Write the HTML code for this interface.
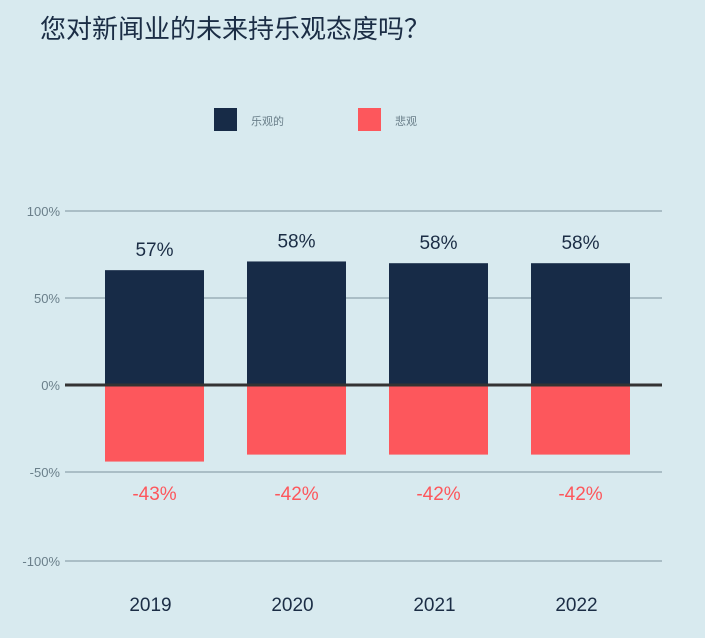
<!DOCTYPE html>
<html><head><meta charset="utf-8"><style>
body{margin:0;background:#d8eaef;width:705px;height:638px;overflow:hidden;font-family:"Liberation Sans","Noto Sans CJK SC",sans-serif}
</style></head><body>
<svg width="705" height="638" style="position:absolute;left:0;top:0">
<text x="40" y="38" font-size="26" fill="#1b2d45" font-family="Liberation Sans, Noto Sans CJK SC, sans-serif">您对新闻业的未来持乐观态度吗？</text>
<g>
<rect x="214" y="108" width="23" height="23" fill="#172b47"/>
<text x="251" y="125" font-size="11" fill="#6a7f8a" font-family="Liberation Sans, Noto Sans CJK SC, sans-serif">乐观的</text>
<rect x="358" y="108" width="23" height="23" fill="#fd575c"/>
<text x="395" y="125" font-size="11" fill="#6a7f8a" font-family="Liberation Sans, Noto Sans CJK SC, sans-serif">悲观</text>
</g>
<g id="plot"></g>
</svg>
<script>
const categories=["2019","2020","2021","2022"];
const positive=[66,71,70,70];
const negative=[-44,-40,-40,-40];
const positiveLabels=["57%","58%","58%","58%"];
const negativeLabels=["-43%","-42%","-42%","-42%"];
const ticks=[100,50,0,-50,-100];
const tickLabels=["100%","50%","0%","-50%","-100%"];
const NS="http://www.w3.org/2000/svg";
const g=document.getElementById('plot');
const y=v=>v>=-50?385-v*1.74:472+(-50-v)*1.78;
const xc=i=>154.5+i*142;
const bw=99;
function mk(t,a){const e=document.createElementNS(NS,t);for(const k in a)e.setAttribute(k,a[k]);g.appendChild(e);return e;}
ticks.forEach((t,i)=>{
 const l=mk('line',{x1:65,x2:662,y1:y(t),y2:y(t),stroke:t===0?'#333':'#8fa4ad','stroke-width':t===0?3:1.2});
 
 
 const tx=mk('text',{x:60,y:y(t)+5,'text-anchor':'end','font-size':13,fill:'#6a7f8a'});
 tx.textContent=tickLabels[i];
 
 
});
categories.forEach((c,i)=>{
 const p=mk('rect',{x:xc(i)-bw/2,y:y(positive[i]),width:bw,height:y(0)-y(positive[i])-1.5,fill:'#172b47'});
 
 
 const n=mk('rect',{x:xc(i)-bw/2,y:y(0)+1.5,width:bw,height:y(negative[i])-y(0)-1.5,fill:'#fd575c'});
 
 
 const pl=mk('text',{x:xc(i),y:y(positive[i])-14,'text-anchor':'middle','font-size':19,fill:'#1b2d45'});
 pl.textContent=positiveLabels[i];
 
 
 const nl=mk('text',{x:xc(i),y:Math.max(y(negative[i])+37,500),'text-anchor':'middle','font-size':19,fill:'#fd575c'});
 nl.textContent=negativeLabels[i];
 
 
 const xl=mk('text',{x:xc(i)-4,y:611,'text-anchor':'middle','font-size':19,fill:'#1b2d45'});
 xl.textContent=c;
 
 
});
</script>
</body></html>
